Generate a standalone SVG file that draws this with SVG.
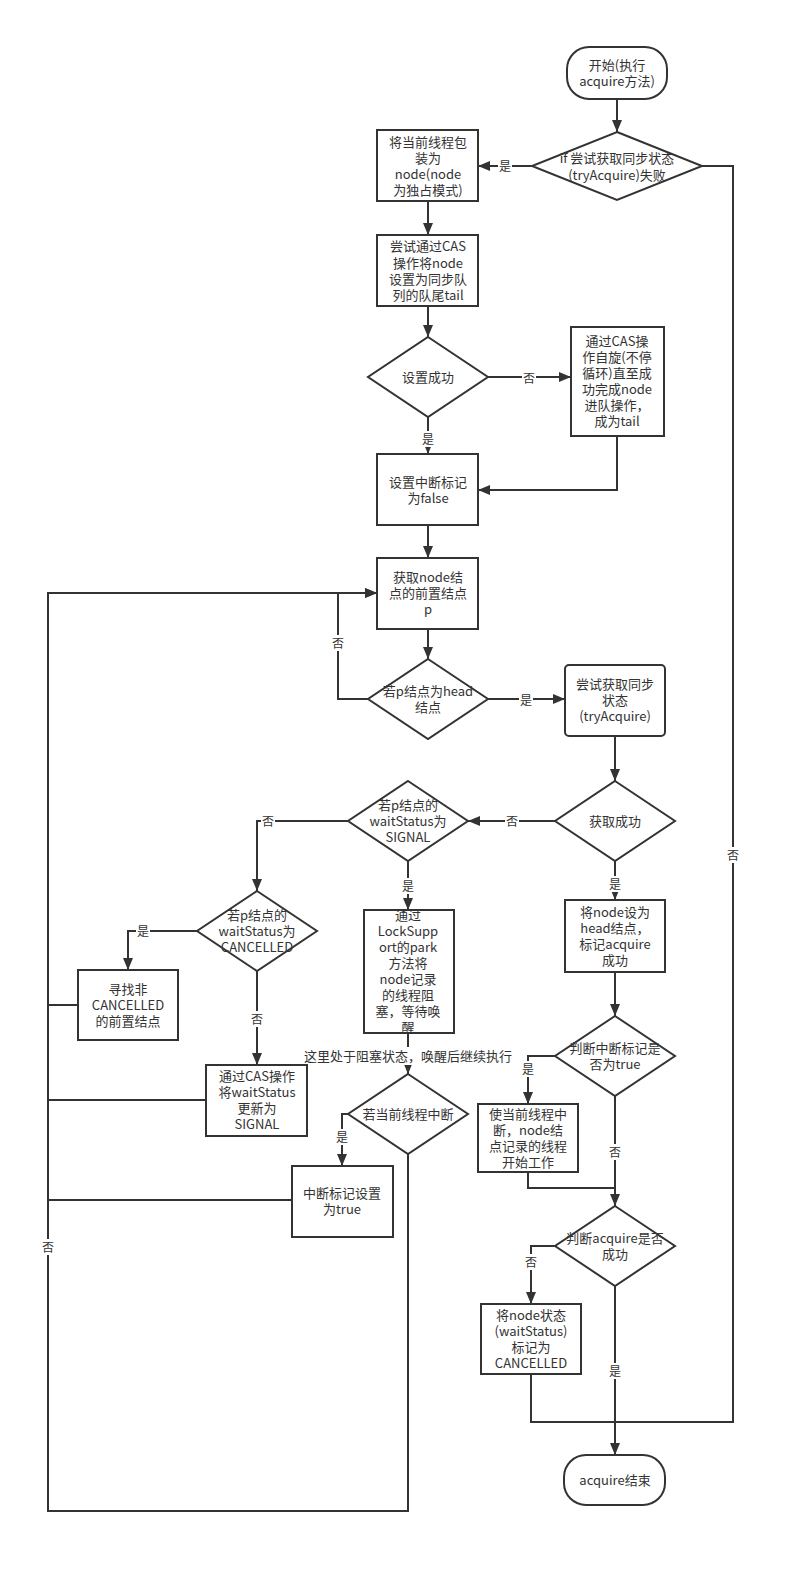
<svg xmlns="http://www.w3.org/2000/svg" width="794" height="1573" viewBox="0 0 794 1573">
<style>
.n{fill:#fff;stroke:#333;stroke-width:2}
.t{font-family:"Noto Sans CJK SC","Liberation Sans",sans-serif;font-size:13px;fill:#333;text-anchor:middle}
.c{fill:none;stroke:#333;stroke-width:2}
.a{marker-end:url(#ah)}
.lb{font-family:"Noto Sans CJK SC","Liberation Sans",sans-serif;font-size:12px;fill:#333;text-anchor:middle}
.bg{fill:#fff}
</style>
<defs>
<marker id="ah" markerUnits="userSpaceOnUse" markerWidth="12" markerHeight="10" refX="12" refY="5" orient="auto">
<path d="M0,0 L12,5 L0,10 z" fill="#333"/>
</marker>
</defs>
<rect width="794" height="1573" fill="#fff"/>

<g id="connectors">
<path class="c a" d="M617,99 V132"/>
<path class="c a" d="M532,166 H478"/>
<path class="c" d="M702,166 H733 V1422 H615"/>
<path class="c" d="M531,1374 V1422 H615"/>
<path class="c a" d="M615,1286 V1455"/>
<path class="c a" d="M428,201 V235"/>
<path class="c a" d="M428,306 V337"/>
<path class="c a" d="M488,377 H571"/>
<path class="c a" d="M428,417 V454"/>
<path class="c a" d="M617,436 V490 H478"/>
<path class="c a" d="M428,525 V558"/>
<path class="c a" d="M428,629 V659"/>
<path class="c a" d="M368,699 H338 V593 H377"/>
<path class="c a" d="M488,699 H565"/>
<path class="c a" d="M615,736 V781"/>
<path class="c a" d="M555,821 H468"/>
<path class="c a" d="M348,821 H257 V891"/>
<path class="c a" d="M197,931 H128 V970"/>
<path class="c a" d="M257,971 V1065"/>
<path class="c a" d="M408,861 V910"/>
<path class="c a" d="M408,1033 V1074"/>
<path class="c a" d="M348,1114 H342 V1166"/>
<path class="c a" d="M408,1154 V1511 H48 V593 H377"/>
<path class="c" d="M78,1005 H48"/>
<path class="c" d="M206,1100 H48"/>
<path class="c" d="M292,1200 H48"/>
<path class="c a" d="M615,861 V900"/>
<path class="c a" d="M615,972 V1016"/>
<path class="c a" d="M555,1056 H528 V1104"/>
<path class="c a" d="M615,1096 V1206"/>
<path class="c" d="M528,1172 V1188 H615"/>
<path class="c a" d="M555,1246 H531 V1304"/>

<rect class="bg" x="498" y="158" width="14" height="16"/><text class="lb" x="505" y="170.5">是</text>
<rect class="bg" x="726" y="847" width="14" height="16"/><text class="lb" x="733" y="859.5">否</text>
<rect class="bg" x="608" y="1363" width="14" height="16"/><text class="lb" x="615" y="1375.5">是</text>
<rect class="bg" x="522" y="370" width="14" height="16"/><text class="lb" x="529" y="382.5">否</text>
<rect class="bg" x="421" y="431" width="14" height="16"/><text class="lb" x="428" y="443.5">是</text>
<rect class="bg" x="331" y="635" width="14" height="16"/><text class="lb" x="338" y="647.5">否</text>
<rect class="bg" x="519" y="692" width="14" height="16"/><text class="lb" x="526" y="704.5">是</text>
<rect class="bg" x="505" y="813" width="14" height="16"/><text class="lb" x="512" y="825.5">否</text>
<rect class="bg" x="261" y="813" width="14" height="16"/><text class="lb" x="268" y="825.5">否</text>
<rect class="bg" x="136" y="923" width="14" height="16"/><text class="lb" x="143" y="935.5">是</text>
<rect class="bg" x="250" y="1011" width="14" height="16"/><text class="lb" x="257" y="1023.5">否</text>
<rect class="bg" x="401" y="878" width="14" height="16"/><text class="lb" x="408" y="890.5">是</text>
<rect class="bg" x="305" y="1047" width="208" height="18"/><text class="t" x="408" y="1060.5">这里处于阻塞状态，唤醒后继续执行</text>
<rect class="bg" x="335" y="1129" width="14" height="16"/><text class="lb" x="342" y="1141.5">是</text>
<rect class="bg" x="41" y="1239" width="14" height="16"/><text class="lb" x="48" y="1251.5">否</text>
<rect class="bg" x="608" y="876" width="14" height="16"/><text class="lb" x="615" y="888.5">是</text>
<rect class="bg" x="521" y="1061" width="14" height="16"/><text class="lb" x="528" y="1073.5">是</text>
<rect class="bg" x="608" y="1144" width="14" height="16"/><text class="lb" x="615" y="1156.5">否</text>
<rect class="bg" x="524" y="1254" width="14" height="16"/><text class="lb" x="531" y="1266.5">否</text>
</g>

<g id="start">
<rect class="n" x="567" y="47" width="100" height="52" rx="22"/>
<text class="t"><tspan x="617" y="69.5">开始(执行</tspan><tspan x="617" y="86">acquire方法)</tspan></text>
</g>
<g id="d1">
<polygon class="n" points="617,132 702,166 617,200 532,166"/>
<text class="t"><tspan x="617" y="163">if 尝试获取同步状态</tspan><tspan x="617" y="179.5">(tryAcquire)失败</tspan></text>
</g>
<g id="box1">
<rect class="n" x="377" y="130" width="101" height="71"/>
<text class="t"><tspan x="428" y="146.5">将当前线程包</tspan><tspan x="428" y="162.5">装为</tspan><tspan x="428" y="178.5">node(node</tspan><tspan x="428" y="194.5">为独占模式)</tspan></text>
</g>
<g id="box2">
<rect class="n" x="377" y="235" width="101" height="71"/>
<text class="t"><tspan x="428" y="251">尝试通过CAS</tspan><tspan x="428" y="267.5">操作将node</tspan><tspan x="428" y="284">设置为同步队</tspan><tspan x="428" y="300">列的队尾tail</tspan></text>
</g>
<g id="d2">
<polygon class="n" points="428,337 488,377 428,417 368,377"/>
<text class="t" x="428" y="381.5">设置成功</text>
</g>
<g id="box3">
<rect class="n" x="571" y="327" width="93" height="109"/>
<text class="t"><tspan x="617" y="346">通过CAS操</tspan><tspan x="617" y="362">作自旋(不停</tspan><tspan x="617" y="378">循环)直至成</tspan><tspan x="617" y="394">功完成node</tspan><tspan x="617" y="410">进队操作，</tspan><tspan x="617" y="426">成为tail</tspan></text>
</g>
<g id="box4">
<rect class="n" x="377" y="454" width="101" height="71"/>
<text class="t"><tspan x="428" y="486.5">设置中断标记</tspan><tspan x="428" y="502.5">为false</tspan></text>
</g>
<g id="box5">
<rect class="n" x="377" y="558" width="101" height="71"/>
<text class="t"><tspan x="428" y="582">获取node结</tspan><tspan x="428" y="598">点的前置结点</tspan><tspan x="428" y="614">p</tspan></text>
</g>
<g id="d3">
<polygon class="n" points="428,659 488,699 428,739 368,699"/>
<text class="t"><tspan x="428" y="695.5">若p结点为head</tspan><tspan x="428" y="711.5">结点</tspan></text>
</g>
<g id="box6">
<rect class="n" x="565" y="665" width="100" height="71" rx="4"/>
<text class="t"><tspan x="615" y="689">尝试获取同步</tspan><tspan x="615" y="705">状态</tspan><tspan x="615" y="721">(tryAcquire)</tspan></text>
</g>
<g id="d4">
<polygon class="n" points="615,781 675,821 615,861 555,821"/>
<text class="t" x="615" y="825.5">获取成功</text>
</g>
<g id="d5">
<polygon class="n" points="408,781 468,821 408,861 348,821"/>
<text class="t"><tspan x="408" y="809.5">若p结点的</tspan><tspan x="408" y="825.5">waitStatus为</tspan><tspan x="408" y="841.5">SIGNAL</tspan></text>
</g>
<g id="d6">
<polygon class="n" points="257,891 317,931 257,971 197,931"/>
<text class="t"><tspan x="257" y="919.5">若p结点的</tspan><tspan x="257" y="935.5">waitStatus为</tspan><tspan x="257" y="951.5">CANCELLED</tspan></text>
</g>
<g id="box7">
<rect class="n" x="78" y="970" width="100" height="70"/>
<text class="t"><tspan x="128" y="993.5">寻找非</tspan><tspan x="128" y="1009.5">CANCELLED</tspan><tspan x="128" y="1025.5">的前置结点</tspan></text>
</g>
<g id="box8">
<rect class="n" x="206" y="1065" width="101" height="71"/>
<text class="t"><tspan x="257" y="1081">通过CAS操作</tspan><tspan x="257" y="1097">将waitStatus</tspan><tspan x="257" y="1113">更新为</tspan><tspan x="257" y="1129">SIGNAL</tspan></text>
</g>
<g id="box9">
<rect class="n" x="364" y="910" width="90" height="123"/>
<text class="t"><tspan x="408" y="920">通过</tspan><tspan x="408" y="936">LockSupp</tspan><tspan x="408" y="952">ort的park</tspan><tspan x="408" y="968">方法将</tspan><tspan x="408" y="984">node记录</tspan><tspan x="408" y="1000">的线程阻</tspan><tspan x="408" y="1016">塞，等待唤</tspan><tspan x="408" y="1032">醒</tspan></text>
</g>
<g id="d7">
<polygon class="n" points="408,1074 468,1114 408,1154 348,1114"/>
<text class="t" x="408" y="1118.5">若当前线程中断</text>
</g>
<g id="box10">
<rect class="n" x="292" y="1166" width="101" height="71"/>
<text class="t"><tspan x="342" y="1197.5">中断标记设置</tspan><tspan x="342" y="1213.5">为true</tspan></text>
</g>
<g id="box11">
<rect class="n" x="565" y="900" width="100" height="72"/>
<text class="t"><tspan x="615" y="916.5">将node设为</tspan><tspan x="615" y="932.5">head结点，</tspan><tspan x="615" y="948.5">标记acquire</tspan><tspan x="615" y="964.5">成功</tspan></text>
</g>
<g id="d8">
<polygon class="n" points="615,1016 675,1056 615,1096 555,1056"/>
<text class="t"><tspan x="615" y="1052.5">判断中断标记是</tspan><tspan x="615" y="1068.5">否为true</tspan></text>
</g>
<g id="box12">
<rect class="n" x="478" y="1104" width="100" height="68"/>
<text class="t"><tspan x="528" y="1118.5">使当前线程中</tspan><tspan x="528" y="1134.5">断，node结</tspan><tspan x="528" y="1150.5">点记录的线程</tspan><tspan x="528" y="1166.5">开始工作</tspan></text>
</g>
<g id="d9">
<polygon class="n" points="615,1206 675,1246 615,1286 555,1246"/>
<text class="t"><tspan x="615" y="1242.5">判断acquire是否</tspan><tspan x="615" y="1258.5">成功</tspan></text>
</g>
<g id="box13">
<rect class="n" x="481" y="1304" width="100" height="70"/>
<text class="t"><tspan x="531" y="1319.5">将node状态</tspan><tspan x="531" y="1335.5">(waitStatus)</tspan><tspan x="531" y="1351.5">标记为</tspan><tspan x="531" y="1367.5">CANCELLED</tspan></text>
</g>
<g id="end">
<rect class="n" x="564" y="1455" width="101" height="50" rx="22"/>
<text class="t" x="615" y="1484.5">acquire结束</text>
</g>
</svg>
